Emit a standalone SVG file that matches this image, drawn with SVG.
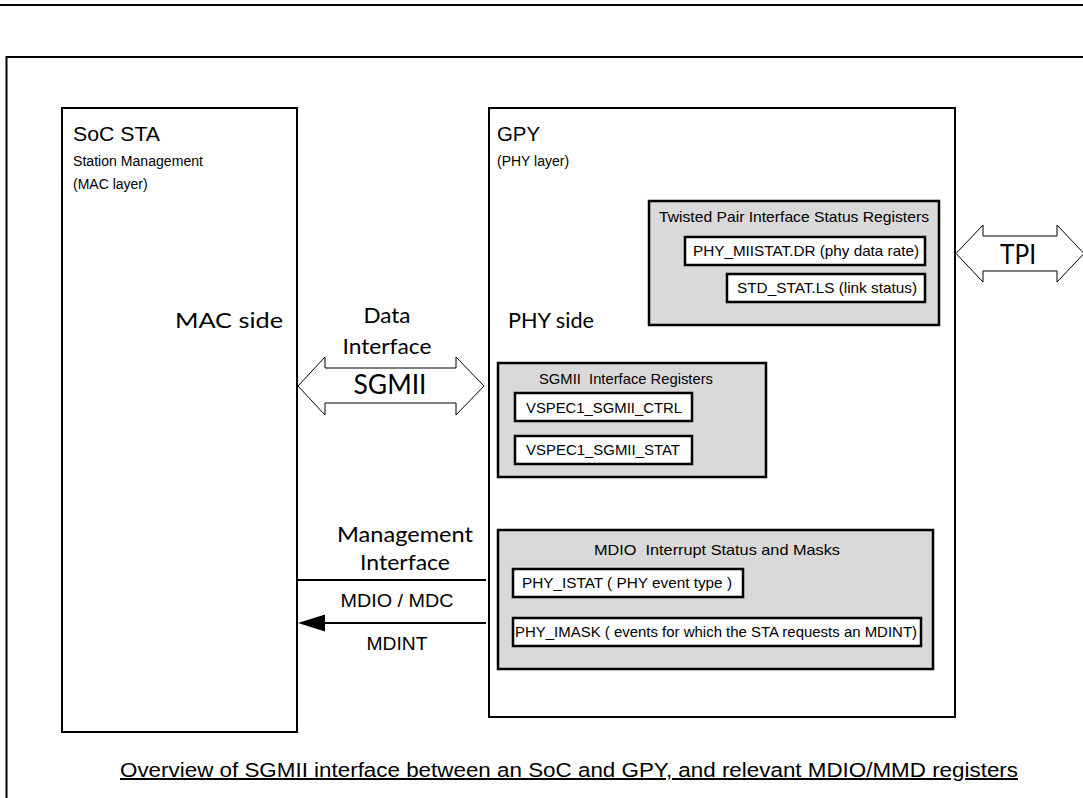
<svg xmlns="http://www.w3.org/2000/svg" width="1083" height="798" viewBox="0 0 1083 798">
<style>
.box{fill:#fff;stroke:#000;stroke-width:2}
.grey{fill:#d9d9d9;stroke:#000;stroke-width:2.5}
.reg{fill:#fff;stroke:#000;stroke-width:2.5}
.a{font-family:"Liberation Sans",Arial,sans-serif;fill:#000}
.c{font-family:Lato,"Open Sans",sans-serif;fill:#000}
.ln{stroke:#000;stroke-width:2;fill:none}
.big{fill:#fff;stroke:#000;stroke-width:1}
</style>
<rect x="0" y="0" width="1083" height="798" fill="#fff"/>
<line x1="0" y1="5" x2="1083" y2="5" class="ln"/>
<path d="M6.5,798 V57 H1083" class="ln"/>

<g id="soc">
<rect x="62" y="108" width="235" height="624" class="box"/>
<text x="73" y="141" class="a" font-size="21" textLength="87" lengthAdjust="spacingAndGlyphs">SoC STA</text>
<text x="73" y="166" class="a" font-size="14" textLength="130" lengthAdjust="spacingAndGlyphs">Station Management</text>
<text x="73" y="189" class="a" font-size="14">(MAC layer)</text>
<text x="283" y="328" class="c" font-size="22" text-anchor="end" textLength="108" lengthAdjust="spacingAndGlyphs">MAC side</text>
</g>

<g id="gpy">
<rect x="489" y="108" width="466" height="609" class="box"/>
<text x="497" y="141" class="a" font-size="21" textLength="43" lengthAdjust="spacingAndGlyphs">GPY</text>
<text x="497" y="166" class="a" font-size="14">(PHY layer)</text>
<text x="508" y="328" class="c" font-size="22" textLength="86" lengthAdjust="spacingAndGlyphs">PHY side</text>
</g>

<g id="tpi-regs">
<rect x="649" y="201" width="290" height="124" class="grey"/>
<text x="659" y="222" class="a" font-size="15" textLength="270" lengthAdjust="spacingAndGlyphs">Twisted Pair Interface Status Registers</text>
<rect x="685" y="237" width="240" height="28" class="reg"/>
<text x="693" y="256" class="a" font-size="15" textLength="226" lengthAdjust="spacingAndGlyphs">PHY_MIISTAT.DR (phy data rate)</text>
<rect x="727" y="274" width="198" height="28" class="reg"/>
<text x="737" y="293" class="a" font-size="15" textLength="180" lengthAdjust="spacingAndGlyphs">STD_STAT.LS (link status)</text>
</g>

<g id="sgmii-regs">
<rect x="498" y="363" width="268" height="114" class="grey"/>
<text x="539" y="384" class="a" font-size="15" textLength="174" lengthAdjust="spacingAndGlyphs" style="white-space:pre">SGMII  Interface Registers</text>
<rect x="515" y="393" width="177" height="28" class="reg"/>
<text x="526" y="413" class="a" font-size="15" textLength="156" lengthAdjust="spacingAndGlyphs">VSPEC1_SGMII_CTRL</text>
<rect x="515" y="436" width="177" height="28" class="reg"/>
<text x="526" y="455" class="a" font-size="15" textLength="154" lengthAdjust="spacingAndGlyphs">VSPEC1_SGMII_STAT</text>
</g>

<g id="mdio-regs">
<rect x="498" y="530" width="435" height="139" class="grey"/>
<text x="594" y="555" class="a" font-size="15" textLength="246" lengthAdjust="spacingAndGlyphs" style="white-space:pre">MDIO  Interrupt Status and Masks</text>
<rect x="513" y="569" width="230" height="28" class="reg"/>
<text x="522" y="588" class="a" font-size="15" textLength="210" lengthAdjust="spacingAndGlyphs">PHY_ISTAT ( PHY event type )</text>
<rect x="513" y="618" width="408" height="28" class="reg"/>
<text x="515" y="637" class="a" font-size="15" textLength="402" lengthAdjust="spacingAndGlyphs">PHY_IMASK ( events for which the STA requests an MDINT)</text>
</g>

<g id="connectors">
<g id="sgmii-link">
<polygon points="298,386 325,357 325,368 456,368 456,357 484,386 456,415 456,403 325,403 325,415" class="big"/>
<text x="387" y="323" class="c" font-size="22" text-anchor="middle" textLength="47" lengthAdjust="spacingAndGlyphs">Data</text>
<text x="387" y="354" class="c" font-size="22" text-anchor="middle" textLength="89" lengthAdjust="spacingAndGlyphs">Interface</text>
<text x="390" y="394" class="c" font-size="26" text-anchor="middle" textLength="73" lengthAdjust="spacingAndGlyphs">SGMII</text>
</g>
<g id="tpi-link">
<polygon points="956,253.5 983,225 983,236 1057,236 1057,225 1084,253.5 1057,282 1057,271 983,271 983,282" class="big"/>
<text x="1018" y="264" class="c" font-size="26" text-anchor="middle" textLength="36" lengthAdjust="spacingAndGlyphs">TPI</text>
</g>
<g id="mgmt-link">
<text x="405" y="542" class="c" font-size="22" text-anchor="middle" textLength="136" lengthAdjust="spacingAndGlyphs">Management</text>
<text x="405" y="570" class="c" font-size="22" text-anchor="middle" textLength="90" lengthAdjust="spacingAndGlyphs">Interface</text>
<line x1="297" y1="580" x2="486" y2="580" class="ln"/>
<text x="397" y="607" class="a" font-size="19" text-anchor="middle" textLength="113" lengthAdjust="spacingAndGlyphs">MDIO / MDC</text>
<line x1="322" y1="623" x2="486" y2="623" class="ln"/>
<polygon points="298,623 325,614.5 325,631.5" fill="#000"/>
<text x="397" y="650" class="a" font-size="19" text-anchor="middle" textLength="61" lengthAdjust="spacingAndGlyphs">MDINT</text>
</g>
</g>

<g id="caption">
<text x="569" y="777" class="a" font-size="20" text-anchor="middle" textLength="898" lengthAdjust="spacingAndGlyphs" text-decoration="underline">Overview of SGMII interface between an SoC and GPY, and relevant MDIO/MMD registers</text>
</g>
</svg>
